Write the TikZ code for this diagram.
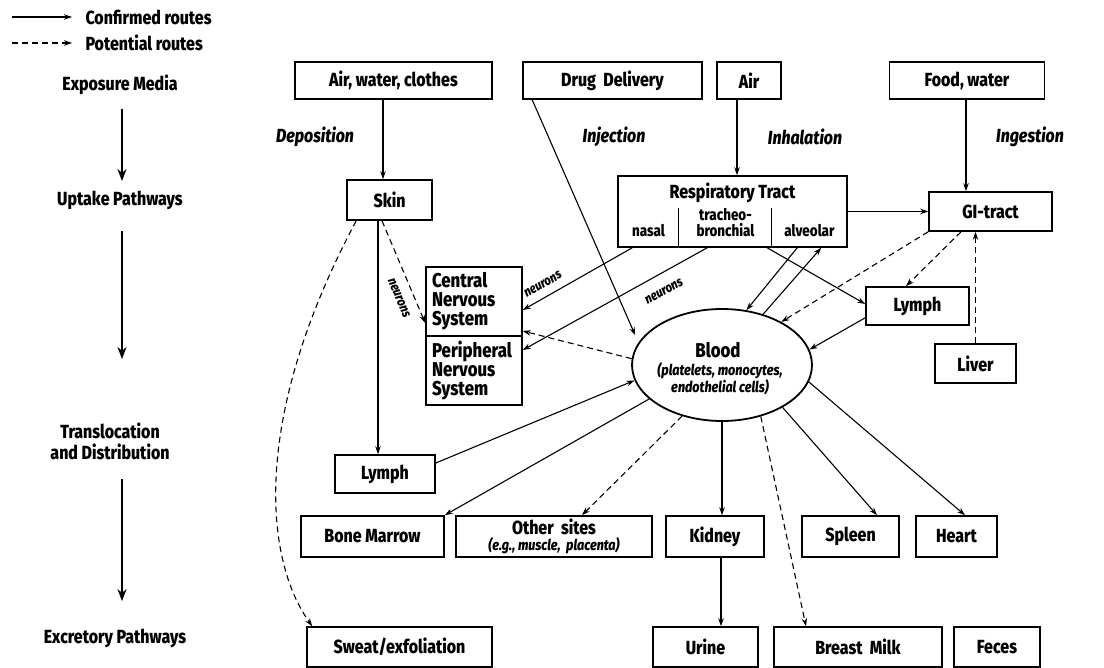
\documentclass[tikz,border=0pt]{standalone}
\usepackage{fontspec}
\setmainfont[FakeStretch=0.84, BoldFont={Fira Sans ExtraBold}, BoldItalicFont={Fira Sans ExtraBold Italic}]{Fira Sans}
\usetikzlibrary{arrows.meta, positioning, shapes.geometric}

\begin{document}
\begin{tikzpicture}[
    x=1pt, y=-1pt,
    >={Stealth[length=8pt, width=5.5pt]},
    box/.style={draw, line width=1.6pt, inner sep=0pt, font=\bfseries\fontsize{19}{21}\selectfont},
    conf/.style={line width=1.1pt, ->},
    pot/.style={conf, dash pattern=on 6pt off 4pt},
    stage/.style={font=\bfseries\fontsize{19}{21}\selectfont, align=center},
    stagearrow/.style={line width=2.6pt, -{Stealth[length=12pt, width=9pt]}},
    route/.style={font=\bfseries\itshape\fontsize{19}{21}\selectfont},
    sub/.style={font=\bfseries\fontsize{16}{16}\selectfont, align=center, inner sep=0pt},
    nerve/.style={font=\bfseries\itshape\fontsize{13.5}{15}\selectfont, inner sep=1pt}
]
   \useasboundingbox (0,0) rectangle (1104,668);

   % Legend
   \coordinate (solidstart) at (12,17);
   \coordinate (dashstart) at (12,43);
   \node[stage, anchor=west] (legconf) at (82,17) {Confirmed routes};
   \node[stage, anchor=west] (legpot) at (82,43) {Potential routes};
   \draw[conf] (solidstart) -- ([xshift=-10pt]legconf.west);
   \draw[pot] (dashstart) -- ([xshift=-10pt]legpot.west);

   % Stages on the left
   \node[stage] (exposure) at (120,85) {Exposure Media};
   \node[stage] (uptake) at (120,200) {Uptake Pathways};
   \node[stage] (transloc) at (110,441) {Translocation\\and Distribution};
   \node[stage] (excretory) at (115,638) {Excretory Pathways};
   \draw[stagearrow, shorten <=11pt, shorten >=6pt] ([xshift=2pt]exposure.south) -- ([xshift=2pt]exposure.south |- uptake.north);
   \draw[stagearrow, shorten <=18pt, shorten >=60pt] ([xshift=2pt]uptake.south) -- ([xshift=2pt]uptake.south |- transloc.north);
   \draw[stagearrow, shorten <=16pt, shorten >=24pt] ([xshift=12pt]transloc.south) -- ([xshift=12pt]transloc.south |- excretory.north);

   % Exposure media
   \node[box, minimum width=197pt, minimum height=37pt] (awc) at (393.5,80.5) {Air, water, clothes};
   \node[box, minimum width=179pt, minimum height=37pt] (drug) at (612.5,80.5) {Drug\ \ Delivery};
   \node[box, minimum width=64pt, minimum height=37pt] (air) at (749,80.5) {Air};
   \node[box, minimum width=155pt, minimum height=37pt] (food) at (967,80.5) {Food,\ water};

   \node[route] (deposition) at (315,137) {Deposition};
   \node[route] (injection) at (614,137) {Injection};
   \node[route] (inhalation) at (805,137) {Inhalation};
   \node[route] (ingestion) at (1030,137) {Ingestion};

   % Uptake
   \node[box, minimum width=85pt, minimum height=40pt] (skin) at (389.5,200) {Skin};
   \node[box, minimum width=229pt, minimum height=71pt] (resp) at (732.5,211.5) {};
   \node[stage] (resptitle) at (732.5,193) {Respiratory Tract};
   \node[sub, anchor=base] (nasal) at (648.5,237) {nasal};
   \node[sub, anchor=base] (tracheo) at (725.5,237) {tracheo-\\bronchial};
   \node[sub, anchor=base] (alveolar) at (809.5,237) {alveolar};
   \draw[line width=1.2pt] ([xshift=61pt]resp.south west) -- ++(0,-40);
   \draw[line width=1.2pt] ([xshift=154pt]resp.south west) -- ++(0,-40);
   \node[box, minimum width=123pt, minimum height=39pt] (gi) at (990.5,211.5) {GI-tract};

   % Distribution
   \node[box, minimum width=96pt, minimum height=69pt, text width=84pt, align=left, font=\bfseries\fontsize{20}{19}\selectfont] (cns) at (474,301.5) {Central\\Nervous\\System};
   \node[box, minimum width=96pt, minimum height=69pt, text width=84pt, align=left, font=\bfseries\fontsize{20}{19}\selectfont] (pns) at (474,370.5) {Peripheral\\Nervous\\System};
   \node[draw, ellipse, line width=1.8pt, minimum width=180pt, minimum height=112pt, inner sep=0pt] (blood) at (722,365) {};
   \node[stage, font=\bfseries\fontsize{20}{21}\selectfont] (bloodtitle) at (718,350) {Blood};
   \node[stage, font=\bfseries\itshape\fontsize{15}{16}\selectfont] (bloodcells) at (720,379) {(platelets, monocytes,\\endothelial cells)};
   \node[box, minimum width=103pt, minimum height=38pt] (lymphR) at (917.5,306) {Lymph};
   \node[box, minimum width=81pt, minimum height=39pt] (liver) at (975.5,363.5) {Liver};
   \node[box, minimum width=100pt, minimum height=38pt] (lymphL) at (385,474) {Lymph};

   % Organs
   \node[box, minimum width=143pt, minimum height=41pt] (marrow) at (372.5,536.5) {Bone Marrow};
   \node[box, minimum width=196pt, minimum height=41pt, align=center] (other) at (554,536.5) {Other\ \ sites\\[-5pt]{\itshape\fontsize{15}{15}\selectfont (e.g.,\ muscle,\ \ placenta)}};
   \node[box, minimum width=98pt, minimum height=41pt] (kidney) at (715,536.5) {Kidney};
   \node[box, minimum width=97pt, minimum height=41pt] (spleen) at (850.5,536.5) {Spleen};
   \node[box, minimum width=81pt, minimum height=41pt] (heart) at (956.5,536.5) {Heart};

   % Excretion
   \node[box, minimum width=185pt, minimum height=40pt] (sweat) at (399.5,647) {Sweat/exfoliation};
   \node[box, minimum width=105pt, minimum height=40pt] (urine) at (705.5,647) {Urine};
   \node[box, minimum width=168pt, minimum height=40pt] (milk) at (858,647) {Breast\ \ Milk};
   \node[box, minimum width=86pt, minimum height=40pt] (feces) at (997,647) {Feces};

   % Routes from the media
   \draw[conf] ([xshift=-10.5pt]awc.south) -- ([xshift=-10.5pt]awc.south |- skin.north);
   \draw[conf, shorten >=8pt] ([xshift=10pt]drug.south west) -- (blood.165);
   \draw[conf] ([xshift=-12pt]air.south) -- ([xshift=-12pt]air.south |- resp.north);
   \draw[conf] ([xshift=-1pt]food.south) -- ([xshift=-1pt]food.south |- gi.north);

   % Skin
   \draw[conf] ([xshift=-11.5pt]skin.south) -- ([xshift=-11.5pt]skin.south |- lymphL.north);
   \draw[pot] ([xshift=-7.5pt]skin.south) -- ([yshift=-21.5pt]cns.west)
       node[nerve, sloped, below=9pt, pos=0.7] (nerveskin) {neurons};
   \draw[pot] ([xshift=10pt]skin.south west) .. controls (250,420) and (265,560) .. ([xshift=6pt]sweat.north west);

   % Respiratory tract
   \draw[conf, <-] ([yshift=-8.5pt]cns.east) -- ([xshift=15pt]resp.south west)
       node[nerve, sloped, above=7pt, pos=0.24] (nervenasal) {neurons};
   \draw[conf, <-] ([yshift=20.5pt]pns.east) -- ([xshift=90pt]resp.south west)
       node[nerve, sloped, below=12pt, pos=0.72] (nervetrach) {neurons};
   \draw[conf] ([xshift=180pt]resp.south west) -- (blood.66);
   \draw[conf] (blood.51) -- ([xshift=204pt]resp.south west);
   \draw[conf] ([xshift=150pt]resp.south west) -- ([yshift=2pt]lymphR.west);
   \draw[conf] (resp.east) -- (gi.west);

   % GI-tract, lymph, liver
   \draw[pot] (gi.south west) -- (blood.36);
   \draw[pot] ([xshift=-29.5pt]gi.south) -- ([xshift=-11.5pt]lymphR.north);
   \draw[pot] (liver.north) -- (liver.north |- gi.south);
   \draw[conf] ([yshift=8pt]lymphR.south west) -- (blood.10);
   \draw[conf] ([yshift=11pt]lymphL.east) -- (blood.190);

   % Blood
   \draw[pot] (blood.176) -- ([yshift=-29.5pt]cns.east);
   \draw[conf] (blood.205) -- (marrow.north east);
   \draw[pot] (blood.232) -- ([xshift=28pt]other.north);
   \draw[conf] (blood.south) -- (blood.south |- kidney.north);
   \draw[pot] (blood.-53) -- ([xshift=-52pt]milk.north);
   \draw[conf] (blood.-35) -- ([xshift=26.5pt]spleen.north);
   \draw[conf] (blood.-11) -- ([xshift=8.5pt]heart.north);
   \draw[conf] ([xshift=6pt]kidney.south) -- ([xshift=6pt]kidney.south |- urine.north);
\end{tikzpicture}
\end{document}
